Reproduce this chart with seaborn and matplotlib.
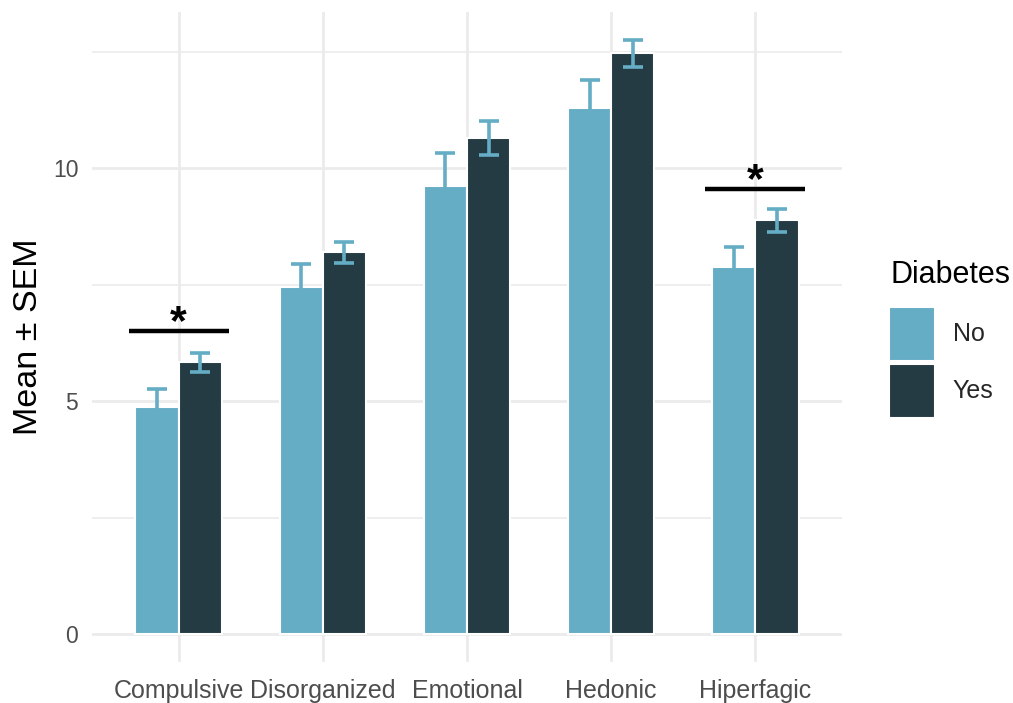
import numpy as np
import pandas as pd
import matplotlib
matplotlib.use("Agg")
import matplotlib.pyplot as plt
from matplotlib.patches import Patch
from matplotlib.ticker import MultipleLocator
import seaborn as sns

# Eating-behaviour subscales, mean and SEM by diabetes status
categories = ["Compulsive", "Disorganized", "Emotional", "Hedonic", "Hiperfagic"]
groups = ["No", "Yes"]
mean_no = [4.87, 7.46, 9.61, 11.30, 7.87]
mean_yes = [5.83, 8.19, 10.65, 12.46, 8.88]
sem_no = [0.39, 0.49, 0.71, 0.58, 0.44]
sem_yes = [0.21, 0.23, 0.36, 0.29, 0.24]

# significance brackets: category, height
sig_categories = ["Compulsive", "Hiperfagic"]
sig_heights = [6.51, 9.56]

palette = {"No": "#65adc4", "Yes": "#243b44"}

df = pd.DataFrame({
    "Category": categories * 2,
    "Diabetes": ["No"] * len(categories) + ["Yes"] * len(categories),
    "Mean": mean_no + mean_yes,
})

sns.set_theme(style="white")
plt.rcParams["font.family"] = ["Liberation Sans", "DejaVu Sans"]

fig = plt.figure(figsize=(10.13, 7.03), dpi=100)
ax = fig.add_axes([0.091, 0.058, 0.740, 0.925])

sns.barplot(data=df, x="Category", y="Mean", hue="Diabetes", order=categories,
            hue_order=groups, palette=palette, saturation=1, width=0.6,
            errorbar=None, edgecolor="white", linewidth=1.5, ax=ax,
            legend=False, zorder=3)

# error bars at the centre of every bar
for container, sems in zip(ax.containers, [sem_no, sem_yes]):
    for bar, s in zip(container, sems):
        cx = bar.get_x() + bar.get_width() / 2
        ax.errorbar(cx, bar.get_height(), yerr=s, fmt="none", ecolor="#65adc4",
                    elinewidth=2.6, capsize=7.5, capthick=2.6, zorder=4)

# significance markers
for cat, h in zip(sig_categories, sig_heights):
    i = categories.index(cat)
    ax.plot([i - 0.346, i + 0.346], [h, h], color="black", lw=3.2,
            solid_capstyle="butt", zorder=5)
    ax.text(i, h - 0.07, "*", ha="center", va="baseline", fontsize=31,
            fontweight="bold", color="black", zorder=5)

ax.set_xlim(-0.6, 4.6)
ax.set_ylim(-0.6, 13.35)
ax.yaxis.set_major_locator(MultipleLocator(5))
ax.yaxis.set_minor_locator(MultipleLocator(2.5))
ax.grid(True, which="major", axis="both", color="#ebebeb", lw=2.0, zorder=0)
ax.grid(True, which="minor", axis="y", color="#ebebeb", lw=1.2, zorder=0)
ax.set_axisbelow(True)
for sp in ax.spines.values():
    sp.set_visible(False)

ax.tick_params(axis="both", which="both", length=0, labelcolor="#4d4d4d")
ax.tick_params(axis="x", labelsize=18, pad=12)
ax.tick_params(axis="y", labelsize=16.5, pad=10)
ax.set_xlabel("")
ax.set_ylabel("Mean \u00b1 SEM", fontsize=24.5, color="black", labelpad=6)

# legend: title set separately for a wider gap above the keys
fig.text(0.8786, 1 - 275 / 703, "Diabetes", ha="left", va="center",
         fontsize=22, color="black")
handles = [Patch(facecolor=palette[g], edgecolor="white", linewidth=1.5, label=g)
           for g in groups]
leg = fig.legend(handles=handles, loc="upper left",
                 bbox_to_anchor=(0.8775, 1 - 307 / 703), frameon=False,
                 fontsize=18, handlelength=1.85, handleheight=2.95,
                 handletextpad=0.7, labelspacing=0.1, borderpad=0,
                 borderaxespad=0)

fig.savefig("out.png", dpi=100)
